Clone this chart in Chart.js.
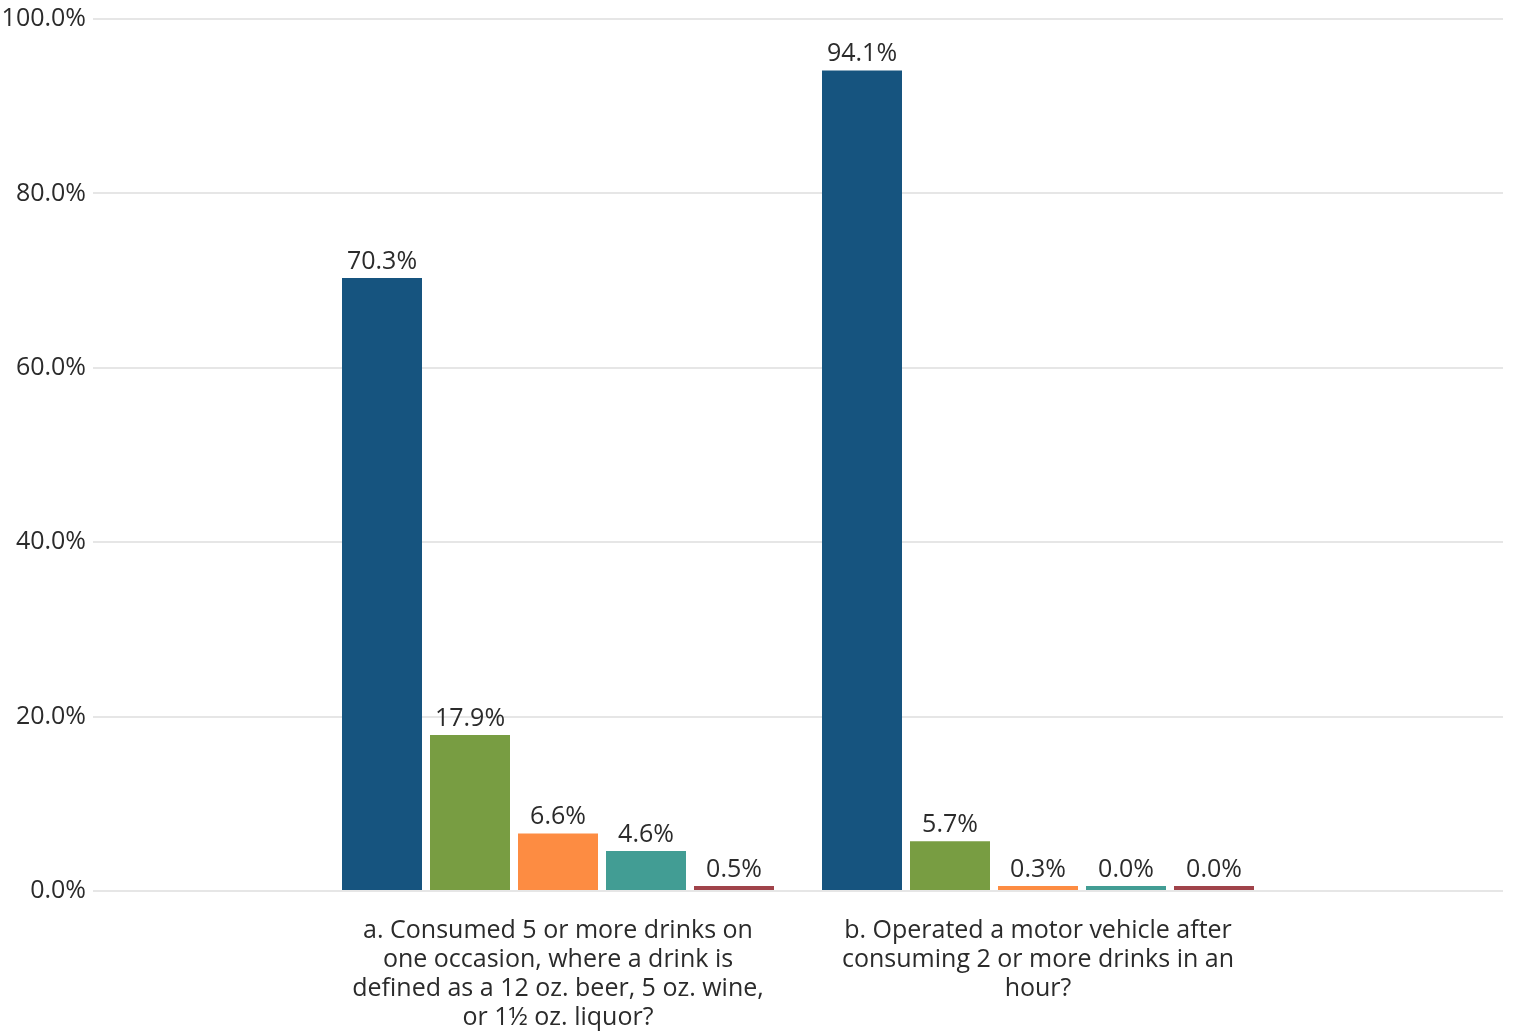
<!DOCTYPE html>
<html>
<head>
<meta charset="utf-8">
<script src="https://cdn.jsdelivr.net/npm/chart.js@4"></script>
<style>
  html, body { margin: 0; padding: 0; background: #fff; }
  #wrap { width: 1513px; height: 1034px; }
</style>
</head>
<body>
<div id="wrap"><canvas id="myChart"></canvas></div>
<script>
// categories (question text, split in lines as shown)
const categories = [
  ["a. Consumed 5 or more drinks on", "one occasion, where a drink is", "defined as a 12 oz. beer, 5 oz. wine,", "or 1\u00bd oz. liquor?"],
  ["b. Operated a motor vehicle after", "consuming 2 or more drinks in an", "hour?"]
];
const seriesNames = ["Series 1", "Series 2", "Series 3", "Series 4", "Series 5"];
const seriesColors = ["#16547f", "#789d42", "#fd8c42", "#429d94", "#a0434a"];
// values per series, one per category (percent)
const series1 = [70.3, 94.1];
const series2 = [17.9, 5.7];
const series3 = [6.6, 0.3];
const series4 = [4.6, 0.0];
const series5 = [0.5, 0.0];
const yTicks = [0, 20, 40, 60, 80, 100];

const allSeries = [series1, series2, series3, series4, series5];
const textColor = "#2b2b2b";
const fontSize = 25;

const datasets = allSeries.map(function(vals, i){
  return {
    label: seriesNames[i],
    data: vals.map(function(v, j){ return {x: j, y: v}; }),
    backgroundColor: seriesColors[i],
    borderWidth: 0,
    minBarLength: 5,
    categoryPercentage: 440 / 480,
    barPercentage: 80 / 88
  };
});

// value labels above each bar
const barLabels = {
  id: "barLabels",
  afterDatasetsDraw(chart) {
    const ctx = chart.ctx;
    ctx.save();
    ctx.font = fontSize + "px 'Open Sans'";
    ctx.fillStyle = textColor;
    ctx.textAlign = "center";
    ctx.textBaseline = "alphabetic";
    chart.data.datasets.forEach(function(ds, i){
      chart.getDatasetMeta(i).data.forEach(function(bar, j){
        ctx.fillText(ds.data[j].y.toFixed(1) + "%", bar.x, bar.y - 9);
      });
    });
    ctx.restore();
  }
};

const ctx = document.getElementById("myChart");
new Chart(ctx, {
  type: "bar",
  data: { datasets: datasets },
  plugins: [barLabels],
  options: {
    responsive: true,
    maintainAspectRatio: false,
    animation: false,
    layout: { padding: { top: 19, right: 10, left: 0, bottom: 0 } },
    plugins: {
      legend: { display: false },
      tooltip: { enabled: false }
    },
    scales: {
      x: {
        type: "linear",
        offset: false,
        min: -0.96875,
        max: 1.96875,
        grid: { display: false },
        border: { display: false },
        afterBuildTicks: function(scale){
          scale.ticks = categories.map(function(c, i){ return {value: i}; });
        },
        afterFit: function(scale){ scale.height = 143; },
        ticks: {
          autoSkip: false,
          maxRotation: 0,
          padding: 17,
          color: textColor,
          font: { family: "'Open Sans'", size: fontSize, lineHeight: 29 / 25 },
          callback: function(value){ return categories[value]; }
        }
      },
      y: {
        min: 0,
        max: 100,
        afterBuildTicks: function(scale){
          scale.ticks = yTicks.map(function(v){ return {value: v}; });
        },
        afterFit: function(scale){
          scale.width = 93;
          scale.paddingTop = 0;
          scale.paddingBottom = 0;
        },
        grid: { color: "#e6e6e6", lineWidth: 2, drawTicks: false },
        border: { display: false },
        ticks: {
          padding: 7,
          color: textColor,
          font: { family: "'Open Sans'", size: fontSize },
          callback: function(v){ return v.toFixed(1) + "%"; }
        }
      }
    }
  }
});
</script>
</body>
</html>
